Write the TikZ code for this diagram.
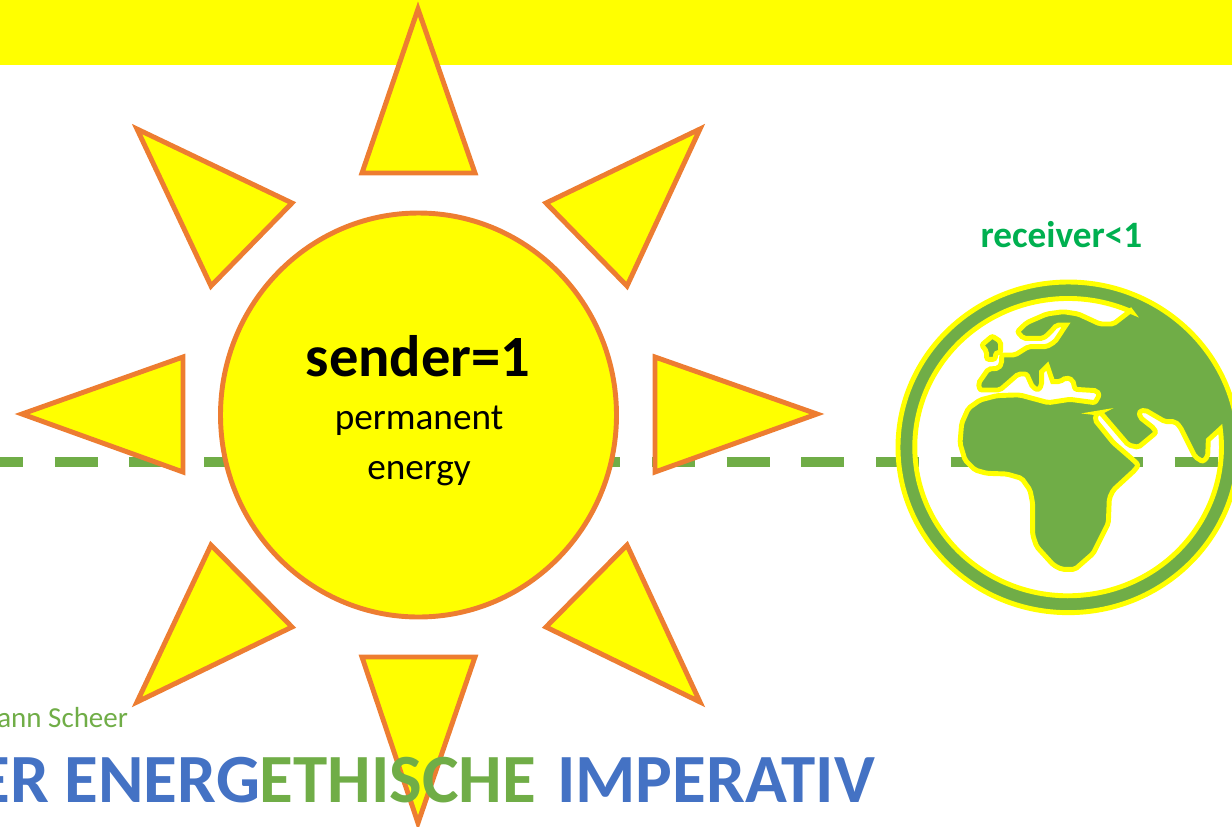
\documentclass[tikz,border=0pt]{standalone}
\usepackage{fontspec}
\usetikzlibrary{shapes.geometric}
\setmainfont{Carlito}
\definecolor{sunyellow}{HTML}{FFFF00}
\definecolor{sunorange}{HTML}{ED7D31}
\definecolor{earthgreen}{HTML}{70AD47}
\definecolor{titleblue}{HTML}{4472C4}
\definecolor{labelgreen}{HTML}{00B050}
\begin{document}
\begin{tikzpicture}[x=0.02cm,y=-0.02cm,inner sep=0pt,outer sep=0pt,
sunshape/.style={draw=sunorange,fill=sunyellow,line width=2.8pt},
earthshape/.style={draw=sunyellow,fill=earthgreen,line width=2.8pt,even odd rule},
heading/.style={font=\bfseries\fontsize{39.3}{39.3}\selectfont,anchor=base east}]
\useasboundingbox (0,0) rectangle (1232,826);
\fill[sunyellow] (0,0) rectangle (1232,65);

% line behind the sun and the earth
\coordinate (L) at (-20,462);
\coordinate (R) at (1218,462);
\draw[earthgreen,line width=6pt,dash pattern=on 24.5pt off 18pt] (L) -- (R);

% rays
\foreach \tipx/\tipy/\ax/\ay/\bx/\by in {418/9/362/173/475/173,700/129/546/203/627/286,
  817/414/655/357/655/472,700/702/546/627/627/545,418/823/362/657/475/657,
  137/702/292/627/211/545,22/414/183/357/183/472,137/129/292/203/211/286}
  \draw[sunshape] (\tipx,\tipy) -- (\ax,\ay) -- (\bx,\by) -- cycle;

\node[sunshape,ellipse,minimum width=396*0.02cm,minimum height=404*0.02cm] (sun) at (418.5,415) {};
\node[font=\bfseries\fontsize{33.3}{33.3}\selectfont] (sender) at (418,356) {sender=1};
\node[font=\fontsize{21.2}{21.2}\selectfont,align=center] (permanent) at (419,446) {permanent\\[6.8pt]energy};
\node[font=\bfseries\fontsize{21.2}{21.2}\selectfont,text=labelgreen] (receiver) at (1061.5,235) {receiver<1};

% earth, in units of a third of a pixel
\begin{scope}[shift={(880,260)},x=0.02cm/3,y=-0.02cm/3]
\draw[earthshape] (565,562) ellipse [x radius=511,y radius=496]
  (752,152) [rounded corners=1.2pt] -- (700,192) -- (660,192) -- (595,162) -- (550,155) -- (500,162) -- (440,188) -- (412,215) -- (430,235) -- (490,235) -- (508,220) -- (530,195) [sharp corners] -- (558,195) [rounded corners=1.2pt]
  -- (525,245) -- (500,260) -- (445,260) -- (405,285) -- (365,285) -- (365,310) -- (355,325) -- (325,327) -- (295,370) -- (300,390) -- (360,390) -- (415,342) -- (440,342) -- (458,382) -- (475,390) -- (485,375) [sharp corners] -- (485,335) -- (502,318) -- (518,365) [rounded corners=1.2pt]
  -- (540,365) -- (558,353) -- (578,360) -- (585,388) -- (650,392) -- (658,405) -- (645,428)
  -- (570,418) -- (505,428) -- (420,405) -- (400,405) -- (350,407) -- (300,420) -- (265,445) -- (245,490) -- (240,550) -- (255,600) -- (285,630) -- (320,640) -- (380,642) -- (425,655) -- (450,690) -- (458,730) -- (458,825) -- (470,860) -- (520,915) -- (545,928) -- (585,928) -- (640,880) -- (685,790) -- (688,715) -- (700,690) -- (765,630) -- (775,615) -- (760,600)
  -- (700,548) -- (645,480) -- (650,460) -- (662,458) -- (745,555) -- (775,562) -- (828,518) -- (822,505) -- (780,472) -- (778,455) -- (795,450) -- (855,485) -- (885,485) -- (900,500) -- (945,590) -- (968,605) -- (983,590) [sharp corners] -- (985,540) -- (1021,507)
  arc [start angle=-7,end angle=294.4,x radius=460,y radius=446] -- cycle
  (337,228) [rounded corners=1.2pt] -- (305,255) -- (320,275) -- (320,298) -- (345,298) -- (348,278) -- (362,278) -- (362,245) -- cycle;
\end{scope}

% title lines run off the left edge
\node[anchor=base east,font=\fontsize{16.5}{16.5}\selectfont,text=earthgreen] (author) at (128,727) {ann Scheer};
\node[heading] (title) at (875,802) {\textcolor{titleblue}{ER ENERG}\textcolor{earthgreen}{ETHISCHE} \hspace{3pt}\textcolor{titleblue}{IMPERATIV}};
\end{tikzpicture}
\end{document}
